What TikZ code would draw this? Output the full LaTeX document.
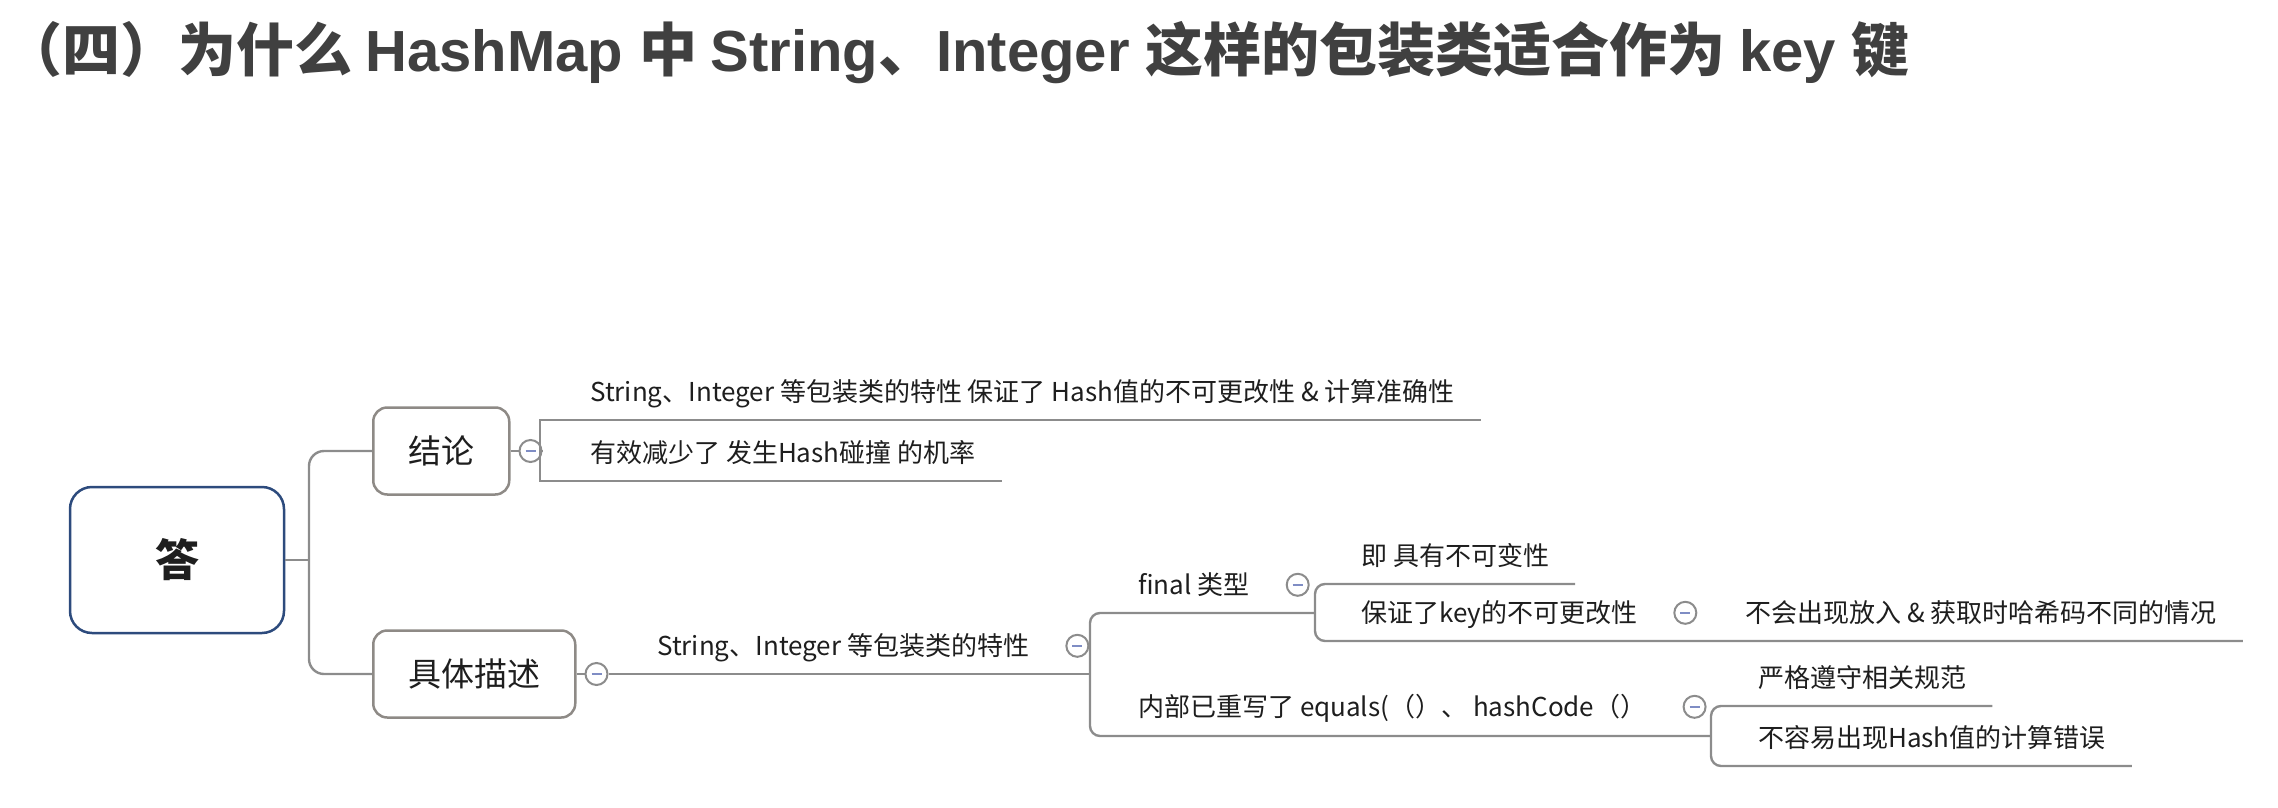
\documentclass[tikz,border=0pt]{standalone}
\usepackage{fontspec}
\setmainfont{Noto Sans CJK SC}
\newfontfamily\cjk{Noto Sans CJK SC}
\newfontfamily\lat{Liberation Sans}
\usepackage{xcolor}
\usetikzlibrary{positioning}

\definecolor{linegray}{HTML}{8C8C8C}
\definecolor{boxgray}{HTML}{8E8A86}
\definecolor{rootblue}{HTML}{2D4B7D}
\definecolor{minusblue}{HTML}{7F8DC4}
\definecolor{titlegray}{HTML}{404040}
\definecolor{textblack}{HTML}{1E1E1E}

\newcommand{\tc}{\cjk\bfseries}
\newcommand{\tl}{\lat\bfseries}

\begin{document}
\begin{tikzpicture}[
    x=1pt, y=-1pt,
    title/.style={anchor=west, inner sep=0pt, text=titlegray, font=\fontsize{58}{69}\selectfont},
    rootbox/.style={draw=rootblue, line width=2.5pt, rounded corners=22pt, minimum width=214pt, minimum height=146pt, font=\fontsize{44}{52}\selectfont\bfseries, text=textblack},
    box/.style={draw=boxgray, line width=2.5pt, rounded corners=14pt, anchor=west, minimum height=87pt, inner xsep=35pt, font=\fontsize{33}{40}\selectfont, text=textblack},
    topic/.style={anchor=south west, inner xsep=26pt, inner ysep=13pt, text height=25pt, text depth=5pt, font=\fontsize{26}{31}\selectfont, text=textblack},
    fold/.style={circle, draw=linegray, line width=2pt, fill=white, minimum size=22pt, inner sep=0pt,
        path picture={\draw[minusblue, line width=2pt] ([xshift=-5pt]path picture bounding box.center) -- ([xshift=5pt]path picture bounding box.center);}},
    link/.style={draw=linegray, line width=2.4pt}
]
    \useasboundingbox (0,0) rectangle (2278,808);

    % Title
    \node[title] (heading) at (4,53) {\tc （四）为什么 \tl HashMap \tc 中 \tl String\tc 、\tl Integer \tc 这样的包装类适合作为 \tl key \tc 键};

    % Root
    \node[rootbox] (answer) at (177,560) {答};

    % Main branches
    \node[box] (conclusion) at (372,451) {结论};
    \node[box] (detail) at (372,674) {具体描述};
    \node[fold, right=8pt of conclusion] (foldc) {};
    \node[fold, right=8pt of detail] (foldd) {};

    % Joints
    \coordinate (j0) at (309,560);
    \coordinate (j1) at (540,451);
    \coordinate (j2) at (1090,674);
    \coordinate (j3) at (1315,613);
    \coordinate (j4) at (1711,736);

    % Conclusion topics
    \node[topic] (cone) at (564,420) {String、Integer 等包装类的特性 保证了 Hash值的不可更改性 \& 计算准确性};
    \node[topic] (ctwo) at (564,481) {有效减少了 发生Hash碰撞 的机率};

    % Detail topics
    \node[topic] (trait) at (631,674) {String、Integer 等包装类的特性};
    \node[fold, right=10pt of trait] (foldt) {};
    \node[topic] (final) at (1112,613) {final 类型};
    \node[fold, right=10pt of final] (foldf) {};
    \node[topic] (immut) at (1335,584) {即 具有不可变性};
    \node[topic] (keyfix) at (1335,641) {保证了key的不可更改性};
    \node[fold, right=10pt of keyfix] (foldk) {};
    \node[topic] (nodiff) at (1719,641) {不会出现放入 \& 获取时哈希码不同的情况};
    \node[topic] (override) at (1112,735) {内部已重写了 equals(（）、 hashCode（）};
    \node[fold, right=10pt of override] (foldo) {};
    \node[topic] (norm) at (1732,706) {严格遵守相关规范};
    \node[topic] (noerr) at (1732,766) {不容易出现Hash值的计算错误};

    % Connectors
    \draw[link] (answer.east) -- (j0);
    \draw[link, rounded corners=15pt] (conclusion.west) -| (j0) |- (detail.west);
    \draw[link] (conclusion.east) -- (foldc.west);
    \draw[link] (foldc.east) -- (j1);
    \draw[link] (cone.south east) -| (j1) |- (ctwo.south east);
    \draw[link] (detail.east) -- (foldd.west);
    \draw[link] (foldd.east) -- (j2);
    \draw[link, rounded corners=10pt] (j3) -| (j2) |- (j4);
    \draw[link, rounded corners=10pt] (immut.south east) -| (j3) |- (nodiff.south east);
    \draw[link, rounded corners=10pt] (norm.south east) -| (j4) |- (noerr.south east);

\end{tikzpicture}
\end{document}
